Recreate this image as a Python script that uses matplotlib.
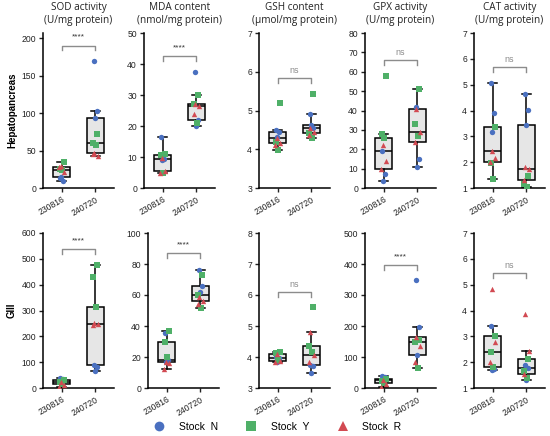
import numpy as np
import matplotlib
matplotlib.use('Agg')
import matplotlib.pyplot as plt
from matplotlib.lines import Line2D

plt.rcParams['font.family'] = ['Liberation Sans', 'DejaVu Sans']

groups = ['230816', '240720']
stocks = ['N', 'Y', 'R']
stock_colors = {'N': '#4a70c0', 'Y': '#4fb068', 'R': '#d24a52'}
stock_markers = {'N': 'o', 'Y': 's', 'R': '^'}

titles = ['SOD activity\n(U/mg protein)', 'MDA content\n(nmol/mg protein)',
          'GSH content\n(\u03bcmol/mg protein)', 'GPX activity\n(U/mg protein)',
          'CAT activity\n(U/mg protein)']

# hepatopancreas, values per stock: [230816, 240720]
hep_sod = {'N': [[13, 10, 15], [170, 103, 93]],
           'Y': [[35, 26, 24], [72, 60, 58]],
           'R': [[30, 22, 28], [47, 43, 45]]}
hep_mda = {'N': [[16.5, 9.3, 9.0], [37.3, 22, 20]],
           'Y': [[11.0, 10.5, 4.8], [30, 27, 21]],
           'R': [[9.8, 5.5, 5.0], [27, 26.5, 24]]}
hep_gsh = {'N': [[4.5, 4.45, 4.32], [4.92, 4.55, 4.63]],
           'Y': [[5.2, 4.2, 3.97], [5.42, 4.42, 4.28]],
           'R': [[4.28, 4.15, 4.1], [4.55, 4.45, 4.38]]}
hep_gpx = {'N': [[19, 7, 3.5], [42, 15, 11]],
           'Y': [[58, 28, 26], [51, 33, 27]],
           'R': [[22, 14, 10], [41, 29, 24]]}
hep_cat = {'N': [[5.05, 3.9, 3.15], [4.65, 4.02, 3.45]],
           'Y': [[3.35, 1.95, 1.35], [1.45, 1.15, 1.05]],
           'R': [[2.45, 2.15, 2.0], [1.8, 1.75, 1.3]]}

# gill
gill_sod = {'N': [[40, 35, 28], [88, 80, 65]],
            'Y': [[32, 22, 15], [478, 430, 315]],
            'R': [[25, 12, 5], [250, 248, 243]]}
gill_mda = {'N': [[35.5, 18, 16.5], [76, 66, 62]],
            'Y': [[37, 29.5, 20], [73, 60, 51.5]],
            'R': [[17, 16, 12], [59, 56, 54]]}
gill_gsh = {'N': [[4.0, 3.97, 3.83], [3.75, 3.7, 3.47]],
            'Y': [[4.15, 4.13, 3.9], [5.6, 4.35, 4.15]],
            'R': [[4.1, 3.87, 3.85], [4.8, 4.08, 3.85]]}
gill_gpx = {'N': [[40, 35, 28], [347, 198, 107]],
            'Y': [[30, 22, 15], [155, 150, 65]],
            'R': [[25, 12, 3], [166, 134, 85]]}
gill_cat = {'N': [[3.4, 1.75, 1.7], [1.9, 1.78, 1.3]],
            'Y': [[3.0, 2.38, 1.8], [2.13, 1.65, 1.4]],
            'R': [[4.85, 2.8, 2.0], [3.87, 2.45, 1.55]]}

hep_sig = ['****', '****', 'ns', 'ns', 'ns']
hep_bracket = [190, 42.5, 5.83, 66, 5.68]
hep_ylim = [(0, 207), (0, 50), (3, 7), (0, 80), (1, 7)]
hep_ymax_tick = [200, 50, 7, 80, 7]
hep_step = [50, 10, 1, 10, 1]

gill_sig = ['****', '****', 'ns', '****', 'ns']
gill_bracket = [538, 87, 6.1, 397, 5.44]
gill_ylim = [(0, 600), (0, 100), (3, 8), (0, 500), (1, 7)]
gill_ymax_tick = [600, 100, 8, 500, 7]
gill_step = [100, 20, 1, 100, 1]

jitter = {'N': [-0.05, 0.05, -0.01], 'Y': [0.06, -0.06, 0.02], 'R': [-0.03, 0.07, -0.07]}

W, H = 550, 436
fig = plt.figure(figsize=(W / 100, H / 100), dpi=100)

lefts_top = [43, 144, 259, 365, 474]
lefts_bot = [43, 148, 259, 365, 474]
aw = 71


def draw_panel(ax, data, ylim, ymax_tick, step, sig, bh):
    vals = [np.concatenate([data[s][i] for s in stocks]) for i in range(2)]
    lw = 1.1
    ax.boxplot(vals, positions=[0, 1], widths=0.5, patch_artist=True,
               showfliers=False,
               boxprops=dict(facecolor='#e6e6e6', edgecolor='black', linewidth=lw),
               medianprops=dict(color='black', linewidth=lw),
               whiskerprops=dict(color='black', linewidth=lw),
               capprops=dict(color='black', linewidth=lw))
    for s in stocks:
        for i in range(2):
            xs = [i + j for j in jitter[s]]
            ax.scatter(xs, data[s][i], s=15, marker=stock_markers[s],
                       color=stock_colors[s], linewidths=0, zorder=3)
    ax.set_xlim(-0.55, 1.55)
    ax.set_ylim(*ylim)
    ax.set_yticks(np.arange(ylim[0], ymax_tick + step / 2, step))
    ax.set_xticks([0, 1])
    ax.set_xticklabels(groups, rotation=30, ha='right', rotation_mode='anchor')
    ax.tick_params(labelsize=6.2, length=3, width=1, pad=2, colors='#222222')
    for sp in ['top', 'right']:
        ax.spines[sp].set_visible(False)
    for sp in ['left', 'bottom']:
        ax.spines[sp].set_linewidth(1.1)
    rng = ylim[1] - ylim[0]
    d = 0.03 * rng
    ax.plot([0, 0, 1, 1], [bh - d, bh, bh, bh - d], color='#8c8c8c', lw=1, clip_on=False)
    if sig == 'ns':
        ax.text(0.5, bh + 0.05 * rng, sig, ha='center', va='center',
                fontsize=6.5, color='#8c8c8c')
    else:
        ax.text(0.5, bh + 0.055 * rng, sig, ha='center', va='center',
                fontsize=6, color='#333333')


hep = [hep_sod, hep_mda, hep_gsh, hep_gpx, hep_cat]
gill = [gill_sod, gill_mda, gill_gsh, gill_gpx, gill_cat]

for k in range(5):
    ax = fig.add_axes([lefts_top[k] / W, 1 - 188 / H, aw / W, 155 / H])
    draw_panel(ax, hep[k], hep_ylim[k], hep_ymax_tick[k], hep_step[k], hep_sig[k], hep_bracket[k])
    ax.set_title(titles[k], fontsize=7.2, pad=7, linespacing=1.25,
                 family=['Open Sans', 'DejaVu Sans'], color='#222222')

    ax2 = fig.add_axes([lefts_bot[k] / W, 1 - 388 / H, aw / W, 155 / H])
    draw_panel(ax2, gill[k], gill_ylim[k], gill_ymax_tick[k], gill_step[k], gill_sig[k], gill_bracket[k])

fig.text(12 / W, 1 - 110 / H, 'Hepatopancreas', rotation=90, ha='center', va='center',
         fontsize=7, fontweight='bold')
fig.text(12 / W, 1 - 310 / H, 'GIII', rotation=90, ha='center', va='center',
         fontsize=7, fontweight='bold')

handles = [Line2D([], [], ls='none', marker=stock_markers[s], color=stock_colors[s],
                  markersize=7, markeredgewidth=0) for s in stocks]
fig.legend(handles, ['Stock  ' + s for s in stocks], loc='center', ncol=3,
           bbox_to_anchor=(0.5, 1 - 427 / H), frameon=False, fontsize=7.5,
           columnspacing=2.2, handletextpad=0.9)

fig.savefig('out.png', dpi=100)
